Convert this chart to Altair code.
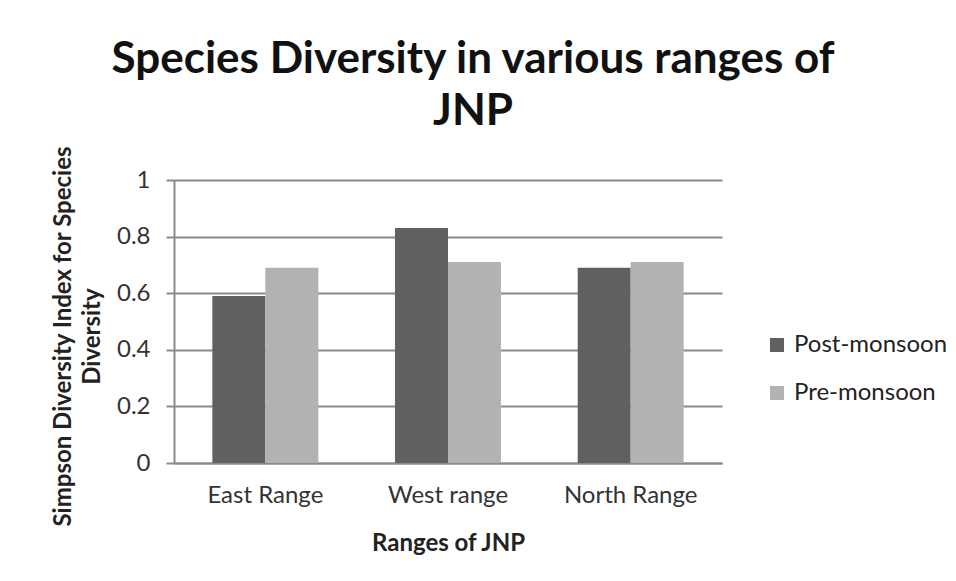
import altair as alt
import pandas as pd

ranges = ["East Range", "West range", "North Range"]
series = ["Post-monsoon", "Pre-monsoon"]
post_monsoon = [0.59, 0.83, 0.69]
pre_monsoon = [0.69, 0.71, 0.71]
colors = ["#606060", "#b2b2b2"]
y_ticks = [0, 0.2, 0.4, 0.6, 0.8, 1]

rows = []
for i, r in enumerate(ranges):
    rows.append({"Range": r, "Series": series[0], "Value": post_monsoon[i]})
    rows.append({"Range": r, "Series": series[1], "Value": pre_monsoon[i]})
df = pd.DataFrame(rows)

FONT = "Lato"
GRID = "#8a8a8a"

chart = alt.Chart(df).mark_bar().encode(
    x=alt.X("Range:N", sort=ranges,
            scale=alt.Scale(paddingInner=0.42, paddingOuter=0.21),
            axis=alt.Axis(title="Ranges of JNP", labelAngle=0, ticks=False,
                          labelFontSize=24, labelFont=FONT, labelColor="#333333",
                          labelPadding=20, titleFontSize=24, titleFont=FONT,
                          titleFontWeight="bold", titleColor="#222222",
                          titlePadding=24, domainColor=GRID, domainWidth=2,
                          grid=False)),
    xOffset=alt.XOffset("Series:N", sort=series),
    y=alt.Y("Value:Q", scale=alt.Scale(domain=[0, 1], nice=False),
            axis=alt.Axis(values=y_ticks, format="~g",
                          title=["Simpson Diversity Index for Species", "Diversity"],
                          labelFontSize=24, labelFont=FONT, labelColor="#333333",
                          labelPadding=16, tickSize=8, tickColor=GRID, tickWidth=2,
                          domainColor=GRID, domainWidth=2,
                          gridColor=GRID, gridWidth=2,
                          titleFontSize=24, titleFont=FONT, titleFontWeight="bold",
                          titleColor="#222222", titleX=-123, titleY=156,
                          titleAngle=-90, titleAlign="center",
                          titleBaseline="top", titleLineHeight=29)),
    color=alt.Color("Series:N", sort=series,
                    scale=alt.Scale(domain=series, range=colors),
                    legend=alt.Legend(title=None, orient="none", legendX=591,
                                      legendY=153, symbolType="square",
                                      symbolSize=196, symbolStrokeWidth=0,
                                      labelFontSize=24, labelFont=FONT,
                                      labelColor="#222222", rowPadding=24,
                                      labelOffset=5, padding=0)),
).properties(
    width=548,
    height=283,
    title=alt.Title(text=["Species Diversity in various ranges of", "JNP"],
                    anchor="middle", fontSize=44, font=FONT, fontWeight="bold",
                    color="#111111", lineHeight=52, offset=11, dx=25),
    autosize=alt.AutoSizeParams(type="none"),
    padding={"left": 166, "top": 172, "right": 226, "bottom": 100},
).configure_view(stroke=None)

chart.save("out.html", embed_options={"renderer": "svg", "actions": False})
